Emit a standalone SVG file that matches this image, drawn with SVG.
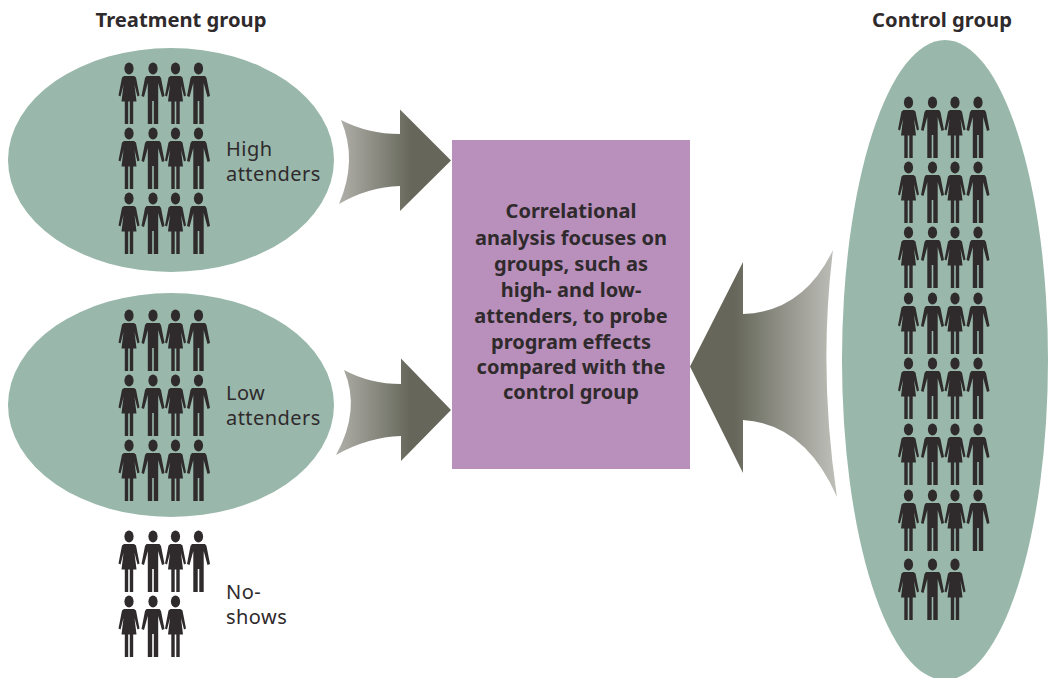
<svg xmlns="http://www.w3.org/2000/svg" xmlns:xlink="http://www.w3.org/1999/xlink" width="1048" height="678" viewBox="0 0 1048 678">
<style>
.oval{fill:#99b8ab}
.p{fill:#2f2a2c}
.t{font-family:"Noto Sans","Liberation Sans",sans-serif;font-size:20px;letter-spacing:.45px;fill:#2f2a2c}
.b{font-family:"Noto Sans","Liberation Sans",sans-serif;font-size:20px;font-weight:700;fill:#2f2a2c;text-anchor:middle}
.h{font-size:20.2px}
</style>
<defs>
<linearGradient id="gr" x1="0" x2="1" y1="0" y2="0"><stop offset="0" stop-color="#b0b0aa"/><stop offset="0.65" stop-color="#66675a"/><stop offset="1" stop-color="#66675a"/></linearGradient>
<linearGradient id="gl" x1="0" x2="1" y1="0" y2="0"><stop offset="0" stop-color="#66675a"/><stop offset="0.3" stop-color="#66675a"/><stop offset="1" stop-color="#c0c0bb"/></linearGradient>
<g id="w" class="p"><ellipse cx="0" cy="5.500" rx="4.600" ry="6"/><path d="M-5 13H5L7 14.500L10.500 32.500L8.500 33.500L5.500 22L7.500 38.500H4.200V61H0.800V38.500H-0.800V61H-4.200V38.500H-7.500L-5.500 22L-8.500 33.500L-10.500 32.500L-7 14.500Z"/></g>
<g id="m" class="p"><ellipse cx="0" cy="5.500" rx="4.600" ry="6"/><path d="M-6.500 13H6.500L8 15L11.500 33L9 34L5.200 20V61H0.800V38H-0.800V61H-5.200V20L-9 34L-11.500 33L-8 15Z"/></g>
<g id="row"><use xlink:href="#w" href="#w" x="0"/><use xlink:href="#m" href="#m" x="24"/><use xlink:href="#w" href="#w" x="46.500"/><use xlink:href="#m" href="#m" x="69.500"/></g>
<g id="row3"><use xlink:href="#w" href="#w" x="0"/><use xlink:href="#m" href="#m" x="24"/><use xlink:href="#w" href="#w" x="46.500"/></g>
</defs>
<g id="connectors">
<path id="arrow-high" fill="url(#gr)" d="M341 120Q368 134 400 134V109.500L451 160.500L400 211V186Q368 187 339 204Q358 160 341 120Z"/>
<path id="arrow-low" fill="url(#gr)" d="M344 370Q370 384 401 384V358.500L451 410L401 461V436Q368 437 336 455Q361 410 344 370Z"/>
<path id="arrow-control" fill="url(#gl)" d="M690 366.500L743 262V314Q803 312 833 250Q818 370 837 497Q805 424 743 420V473Z"/>
</g>
<g id="high-attenders"><ellipse class="oval" cx="171" cy="160" rx="163" ry="112"/>
<use xlink:href="#row" href="#row" x="129" y="63"/><use xlink:href="#row" href="#row" x="129" y="128"/><use xlink:href="#row" href="#row" x="129" y="193"/>
<text class="t" x="226" y="156"><tspan x="226" y="156">High</tspan><tspan x="226" y="181">attenders</tspan></text></g>
<g id="low-attenders"><ellipse class="oval" cx="171" cy="405" rx="163" ry="112"/>
<use xlink:href="#row" href="#row" x="129" y="310"/><use xlink:href="#row" href="#row" x="129" y="375"/><use xlink:href="#row" href="#row" x="129" y="440"/>
<text class="t" x="226" y="400"><tspan x="226" y="400">Low</tspan><tspan x="226" y="425">attenders</tspan></text></g>
<g id="no-shows"><use xlink:href="#row" href="#row" x="129" y="531"/><use xlink:href="#row3" href="#row3" x="129" y="596"/>
<text class="t" x="226" y="599"><tspan x="226" y="599">No-</tspan><tspan x="226" y="624">shows</tspan></text></g>
<g id="control"><ellipse class="oval" cx="945" cy="360" rx="103" ry="320"/>
<use xlink:href="#row" href="#row" x="908.500" y="97"/><use xlink:href="#row" href="#row" x="908.500" y="162"/><use xlink:href="#row" href="#row" x="908.500" y="227"/><use xlink:href="#row" href="#row" x="908.500" y="293"/><use xlink:href="#row" href="#row" x="908.500" y="358"/><use xlink:href="#row" href="#row" x="908.500" y="424"/><use xlink:href="#row" href="#row" x="908.500" y="490"/><use xlink:href="#row3" href="#row3" x="908.500" y="559"/></g>
<g id="center"><rect x="452" y="140" width="238" height="329" fill="#b98fbb"/>
<text class="b" x="571" y="218"><tspan x="571" y="218">Correlational</tspan><tspan x="571" y="245">analysis focuses on</tspan><tspan x="571" y="271">groups, such as</tspan><tspan x="571" y="297">high- and low-</tspan><tspan x="571" y="323">attenders, to probe</tspan><tspan x="571" y="349">program effects</tspan><tspan x="571" y="374">compared with the</tspan><tspan x="571" y="399">control group</tspan></text></g>
<text class="b h" x="181" y="27">Treatment group</text>
<text class="b h" x="942" y="27">Control group</text>
</svg>
